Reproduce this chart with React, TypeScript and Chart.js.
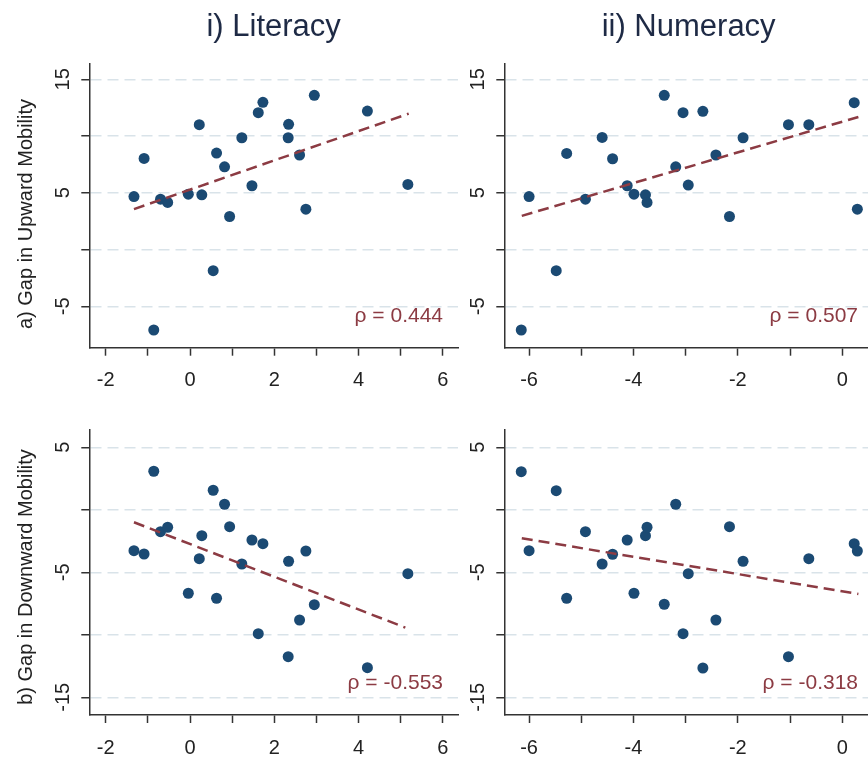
import React, { useEffect, useRef } from 'react';
import { Chart, registerables } from 'chart.js';

Chart.register(...registerables);

// ---------- data ----------
const columnTitles = ['i) Literacy', 'ii) Numeracy'];
const rowTitles = ['a) Gap in Upward Mobility', 'b) Gap in Downward Mobility'];

const literacyX = [-1.33, -1.09, -0.86, -0.7, -0.53, -0.04, 0.22, 0.28, 0.55, 0.63, 0.82, 0.94, 1.23, 1.47, 1.62, 1.73, 2.33, 2.34, 2.6, 2.75, 2.95, 4.21, 5.17];
const upwardLiteracy = [4.67, 8.03, -7.09, 4.44, 4.15, 4.88, 11.0, 4.82, -1.86, 8.5, 7.29, 2.91, 9.85, 5.62, 12.06, 12.97, 9.85, 11.03, 8.33, 3.56, 13.59, 12.2, 5.74];
const downwardLiteracy = [-3.27, -3.54, 3.08, -1.75, -1.4, -6.68, -3.91, -2.07, 1.56, -7.08, 0.44, -1.35, -4.34, -2.42, -9.91, -2.71, -11.75, -4.12, -8.82, -3.3, -7.59, -12.63, -5.11];

const numeracyX = [-6.15, -6.0, -5.48, -5.28, -4.92, -4.6, -4.4, -4.12, -3.99, -3.77, -3.74, -3.41, -3.19, -3.05, -2.95, -2.67, -2.42, -2.16, -1.9, -1.03, -0.64, 0.23, 0.29];
const upwardNumeracy = [-7.09, 4.67, -1.86, 8.47, 4.44, 9.88, 8.0, 5.62, 4.88, 4.82, 4.15, 13.59, 7.29, 12.06, 5.68, 12.18, 8.33, 2.91, 9.85, 11.0, 11.0, 12.94, 3.56];
const downwardNumeracy = [3.05, -3.27, 1.53, -7.08, -1.75, -4.34, -3.56, -2.42, -6.68, -2.07, -1.4, -7.56, 0.44, -9.91, -5.11, -12.66, -8.82, -1.35, -4.12, -11.75, -3.91, -2.71, -3.3];

// fitted lines (end points)
const trendUpLitX = [-1.33, 5.19];
const trendUpLitY = [3.56, 11.97];
const trendUpNumX = [-6.14, 0.31];
const trendUpNumY = [2.97, 11.68];
const trendDownLitX = [-1.33, 5.11];
const trendDownLitY = [-1.0, -9.43];
const trendDownNumX = [-6.14, 0.31];
const trendDownNumY = [-2.28, -6.74];

const rhoLabels = ['ρ = 0.444', 'ρ = 0.507', 'ρ = -0.553', 'ρ = -0.318'];

const literacyTicks = [-2, -1, 0, 1, 2, 3, 4, 5, 6];
const numeracyTicks = [-6, -5, -4, -3, -2, -1, 0];
const upwardTicks = [15, 10, 5, 0, -5];
const downwardTicks = [5, 0, -5, -10, -15];
const upwardTickLabels = [15, 5, -5];
const downwardTickLabels = [5, -5, -15];

// ---------- layout ----------
const W = 900;
const H = 762;
const XH = 50;
const FONT = '"Liberation Sans", Arial, Helvetica, sans-serif';
const DOT = '#1b4a73';
const RED = '#8c3b43';

type Panel = {
  x: number[]; y: number[]; tx: number[]; ty: number[];
  xTicks: number[]; yTicks: number[]; yLabels: number[];
  xMin: number; xMax: number; yMin: number; yMax: number;
  rho: string;
  area: { left: number; top: number; right: number; bottom: number };
};

const LIT_RANGE = [-2.39, 6.36];
const NUM_RANGE = [-6.475, 0.59];
const UP_RANGE = [-8.65, 16.41];
const DOWN_RANGE = [-16.42, 6.38];

const COL_L = [{ left: 89.3, right: 458 }, { left: 504.3, right: 873 }];
const ROW_T = [{ top: 63.3, bottom: 347.7 }, { top: 430, bottom: 715 }];

const panels: Panel[] = [
  { x: literacyX, y: upwardLiteracy, tx: trendUpLitX, ty: trendUpLitY, xTicks: literacyTicks, yTicks: upwardTicks, yLabels: upwardTickLabels,
    xMin: LIT_RANGE[0], xMax: LIT_RANGE[1], yMin: UP_RANGE[0], yMax: UP_RANGE[1], rho: rhoLabels[0],
    area: { ...COL_L[0], ...ROW_T[0] } },
  { x: numeracyX, y: upwardNumeracy, tx: trendUpNumX, ty: trendUpNumY, xTicks: numeracyTicks, yTicks: upwardTicks, yLabels: upwardTickLabels,
    xMin: NUM_RANGE[0], xMax: NUM_RANGE[1], yMin: UP_RANGE[0], yMax: UP_RANGE[1], rho: rhoLabels[1],
    area: { ...COL_L[1], ...ROW_T[0] } },
  { x: literacyX, y: downwardLiteracy, tx: trendDownLitX, ty: trendDownLitY, xTicks: literacyTicks, yTicks: downwardTicks, yLabels: downwardTickLabels,
    xMin: LIT_RANGE[0], xMax: LIT_RANGE[1], yMin: DOWN_RANGE[0], yMax: DOWN_RANGE[1], rho: rhoLabels[2],
    area: { ...COL_L[0], ...ROW_T[1] } },
  { x: numeracyX, y: downwardNumeracy, tx: trendDownNumX, ty: trendDownNumY, xTicks: numeracyTicks, yTicks: downwardTicks, yLabels: downwardTickLabels,
    xMin: NUM_RANGE[0], xMax: NUM_RANGE[1], yMin: DOWN_RANGE[0], yMax: DOWN_RANGE[1], rho: rhoLabels[3],
    area: { ...COL_L[1], ...ROW_T[1] } },
];

function PanelChart({ p }: { p: Panel }) {
  const ref = useRef<HTMLCanvasElement>(null);
  useEffect(() => {
    const canvas = ref.current;
    if (!canvas) return;
    const a = p.area;
    const extras = {
      id: 'extras',
      afterDraw(chart: any) {
        const ctx = chart.ctx;
        const ys = chart.scales.y;
        const ca = chart.chartArea;
        ctx.save();
        ctx.fillStyle = '#222';
        ctx.font = `20px ${FONT}`;
        ctx.textAlign = 'center';
        ctx.textBaseline = 'middle';
        p.yLabels.forEach((v) => {
          const py = ys.getPixelForValue(v);
          ctx.save();
          ctx.translate(ca.left - 26, py);
          ctx.rotate(-Math.PI / 2);
          ctx.fillText(String(v), 0, 0);
          ctx.restore();
        });
        ctx.fillStyle = RED;
        ctx.font = `21px ${FONT}`;
        ctx.textAlign = 'right';
        ctx.textBaseline = 'alphabetic';
        ctx.fillText(p.rho, ca.right - 15, ca.bottom - 26);
        ctx.restore();
      },
    };
    const chart = new Chart(canvas, {
      type: 'scatter',
      data: {
        datasets: [
          {
            data: p.tx.map((x, i) => ({ x, y: p.ty[i] })),
            showLine: true,
            borderColor: RED,
            borderWidth: 2.5,
            borderDash: [11, 6],
            pointRadius: 0,
            order: 0,
          } as any,
          {
            data: p.x.map((x, i) => ({ x, y: p.y[i] })),
            backgroundColor: DOT,
            borderWidth: 0,
            pointRadius: 5.5,
            order: 1,
          } as any,
        ],
      },
      options: {
        animation: false,
        responsive: false,
        events: [],
        layout: { padding: { left: a.left, top: a.top, right: W - a.right, bottom: H - a.bottom - XH } },
        plugins: { legend: { display: false }, tooltip: { enabled: false } },
        scales: {
          x: {
            type: 'linear',
            position: 'bottom',
            min: p.xMin,
            max: p.xMax,
            afterBuildTicks: (s: any) => { s.ticks = p.xTicks.map((v) => ({ value: v })); },
            afterFit: (s: any) => { s.height = XH; },
            grid: { drawOnChartArea: false, drawTicks: true, tickLength: 8, tickColor: '#333', tickWidth: 1.5 },
            border: { display: true, color: '#333', width: 1.5 },
            ticks: {
              autoSkip: false, maxRotation: 0, minRotation: 0, padding: 13, color: '#222',
              font: { size: 20, family: FONT },
              callback: (v: any) => (Number(v) % 2 === 0 ? String(v) : ''),
            },
          },
          y: {
            type: 'linear',
            min: p.yMin,
            max: p.yMax,
            afterBuildTicks: (s: any) => { s.ticks = p.yTicks.map((v) => ({ value: v })); },
            afterFit: (s: any) => { s.width = 0; },
            grid: { drawOnChartArea: true, color: '#d9e3e9', lineWidth: 1.5, drawTicks: true, tickLength: 8, tickColor: '#333', tickWidth: 1.5 },
            border: { display: true, color: '#333', width: 1.5, dash: [11, 6] },
            ticks: { display: false },
          },
        },
      } as any,
      plugins: [extras],
    });
    return () => chart.destroy();
  }, [p]);
  return <canvas ref={ref} width={W} height={H} style={{ position: 'absolute', left: 0, top: 0 }} />;
}

export default function App() {
  return (
    <div style={{ position: 'fixed', left: 0, top: 0, width: 868, height: 762, overflow: 'hidden', background: '#fff' }}>
      {panels.map((p, i) => <PanelChart key={i} p={p} />)}
      {columnTitles.map((t, i) => (
        <div key={t} style={{
          position: 'absolute', left: (COL_L[i].left + COL_L[i].right) / 2, top: 25,
          transform: 'translate(-50%, -50%)', fontFamily: FONT, fontSize: 31, lineHeight: 1,
          color: '#1e2a45', whiteSpace: 'nowrap',
        }}>{t}</div>
      ))}
      {rowTitles.map((t, i) => (
        <div key={t} style={{
          position: 'absolute', left: 25, top: i === 0 ? 214 : 577,
          transform: 'translate(-50%, -50%) rotate(-90deg)', fontFamily: FONT, fontSize: 20, lineHeight: 1,
          color: '#222', whiteSpace: 'nowrap',
        }}>{t}</div>
      ))}
    </div>
  );
}
